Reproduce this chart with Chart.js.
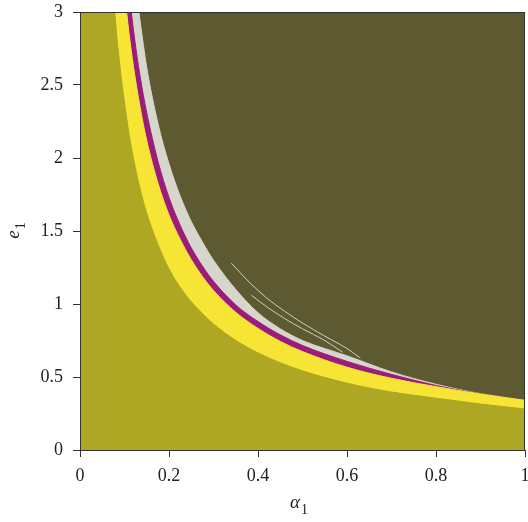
<!DOCTYPE html>
<html>
<head>
<meta charset="utf-8">
<script src="https://cdn.jsdelivr.net/npm/chart.js@4"></script>
<style>
  body { margin: 0; background: #fff; }
</style>
</head>
<body>
<canvas id="myChart" width="528" height="522"></canvas>
<script>
var alpha = [0.06, 0.07, 0.08, 0.09, 0.1, 0.11, 0.12, 0.135, 0.15, 0.175, 0.2, 0.225,
             0.25, 0.275, 0.3, 0.35, 0.4, 0.45, 0.5, 0.6, 0.7, 0.8, 0.9, 1.0];

// e_1 of each edge, from the bottom up
var lowYellow  = [3.87, 3.33, 2.93, 2.62, 2.38, 2.17, 2.0, 1.79, 1.62, 1.41, 1.24, 1.115,
                  1.015, 0.935, 0.863, 0.751, 0.665, 0.598, 0.542, 0.458, 0.397, 0.355, 0.315, 0.28];
var topYellow  = [5.2, 4.46, 3.91, 3.48, 3.14, 2.86, 2.63, 2.35, 2.12, 1.83, 1.61, 1.444,
                  1.304, 1.189, 1.093, 0.943, 0.833, 0.744, 0.674, 0.567, 0.491, 0.434, 0.384, 0.34];
var topMagenta = [5.77, 4.94, 4.33, 3.84, 3.46, 3.15, 2.88, 2.56, 2.31, 1.98, 1.73, 1.54,
                  1.385, 1.26, 1.155, 0.994, 0.88, 0.789, 0.716, 0.607, 0.518, 0.442, 0.385, 0.34];
var topGray    = [6.6, 5.65, 4.95, 4.4, 3.96, 3.6, 3.3, 2.94, 2.62, 2.24, 1.96, 1.74,
                  1.565, 1.425, 1.3, 1.1, 0.94, 0.83, 0.75, 0.645, 0.535, 0.45, 0.386, 0.34];

// thin gray streaks inside the dark region
var streak1Alpha = [0.34, 0.38, 0.42, 0.46, 0.5, 0.55, 0.6, 0.63];
var streak1E     = [1.28, 1.15, 1.04, 0.95, 0.87, 0.78, 0.695, 0.63];
var streak2Alpha = [0.385, 0.42, 0.46, 0.5, 0.55, 0.59];
var streak2E     = [1.06, 0.98, 0.90, 0.83, 0.75, 0.67];

var xTicks = [0, 0.2, 0.4, 0.6, 0.8, 1];
var yTicks = [0, 0.5, 1, 1.5, 2, 2.5, 3];

function pts(xs, ys) {
  var out = [];
  for (var i = 0; i < xs.length; i++) {
    out.push({x: xs[i], y: ys[i]});
  }
  return out;
}

var FONT = "'Liberation Serif', 'DejaVu Serif', serif";
var OLIVE = '#ada723';

function band(label, ys, color, fill, order) {
  return {
    label: label,
    data: pts(alpha, ys),
    borderColor: color,
    backgroundColor: color,
    borderWidth: 1,
    pointRadius: 0,
    cubicInterpolationMode: 'monotone',
    fill: fill,
    order: order
  };
}

function streak(xs, ys) {
  return {
    label: 'streak',
    data: pts(xs, ys),
    borderColor: '#cfcfc4',
    borderWidth: 1,
    pointRadius: 0,
    cubicInterpolationMode: 'monotone',
    fill: false,
    order: 0
  };
}

// olive behind the plot, frame round it and the two axis titles with subscripts
var framePlugin = {
  id: 'frame',
  beforeDatasetsDraw: function (chart) {
    var ctx = chart.ctx, a = chart.chartArea;
    ctx.save();
    ctx.fillStyle = OLIVE;
    ctx.fillRect(a.left, a.top, a.right - a.left, a.bottom - a.top);
    ctx.restore();
  },
  afterDraw: function (chart) {
    var ctx = chart.ctx, a = chart.chartArea;
    ctx.save();
    ctx.strokeStyle = '#333';
    ctx.lineWidth = 1;
    ctx.strokeRect(a.left + 0.5, a.top + 0.5, a.right - a.left - 1, a.bottom - a.top);
    ctx.fillStyle = '#222';
    ctx.textBaseline = 'alphabetic';

    // x title
    var cx = (a.left + a.right) / 2 - 4;
    ctx.font = 'italic 19px ' + FONT;
    var w1 = ctx.measureText('α').width;
    ctx.font = '14px ' + FONT;
    var w2 = ctx.measureText('1').width;
    var x0 = cx - (w1 + w2) / 2;
    ctx.font = 'italic 19px ' + FONT;
    ctx.fillText('α', x0, 508);
    ctx.font = '14px ' + FONT;
    ctx.fillText('1', x0 + w1 + 1, 514);

    // y title, rotated
    ctx.translate(19, (a.top + a.bottom) / 2);
    ctx.rotate(-Math.PI / 2);
    ctx.font = 'italic 19px ' + FONT;
    w1 = ctx.measureText('e').width;
    ctx.font = '14px ' + FONT;
    w2 = ctx.measureText('1').width;
    x0 = -(w1 + w2) / 2;
    ctx.font = 'italic 19px ' + FONT;
    ctx.fillText('e', x0, 0);
    ctx.font = '14px ' + FONT;
    ctx.fillText('1', x0 + w1 + 1, 6);
    ctx.restore();
  }
};

const ctx = document.getElementById('myChart').getContext('2d');
const myChart = new Chart(ctx, {
  type: 'line',
  data: {
    datasets: [
      band('olive', lowYellow, OLIVE, 'start', 1),
      band('yellow', topYellow, '#f6e534', 'start', 2),
      band('magenta', topMagenta, '#9c1c7c', 'start', 3),
      band('gray', topGray, '#d6d6cc', 'start', 4),
      band('dark', topGray, '#5d5a31', 'end', 5),
      streak(streak1Alpha, streak1E),
      streak(streak2Alpha, streak2E)
    ]
  },
  options: {
    responsive: false,
    animation: false,
    devicePixelRatio: 1,
    layout: { padding: { top: 12, right: 3, left: 0, bottom: 0 } },
    plugins: {
      legend: { display: false },
      tooltip: { enabled: false }
    },
    scales: {
      x: {
        type: 'linear',
        min: 0,
        max: 1,
        afterFit: function (s) {
          s.height = 72;
          s.paddingLeft = 0;
          s.paddingRight = 0;
        },
        afterBuildTicks: function (s) {
          s.ticks = xTicks.map(function (v) { return {value: v}; });
        },
        grid: { drawOnChartArea: false, tickLength: 7, tickColor: '#333' },
        border: { color: '#333' },
        ticks: {
          padding: 8,
          color: '#222',
          font: { family: FONT, size: 18 },
          callback: function (v) { return '' + v; }
        }
      },
      y: {
        type: 'linear',
        min: 0,
        max: 3,
        afterFit: function (s) {
          s.width = 80;
          s.paddingTop = 0;
          s.paddingBottom = 0;
        },
        afterBuildTicks: function (s) {
          s.ticks = yTicks.map(function (v) { return {value: v}; });
        },
        grid: { drawOnChartArea: false, tickLength: 7, tickColor: '#333' },
        border: { color: '#333' },
        ticks: {
          padding: 10,
          color: '#222',
          font: { family: FONT, size: 18 },
          callback: function (v) { return '' + v; }
        }
      }
    }
  },
  plugins: [framePlugin]
});
</script>
</body>
</html>
